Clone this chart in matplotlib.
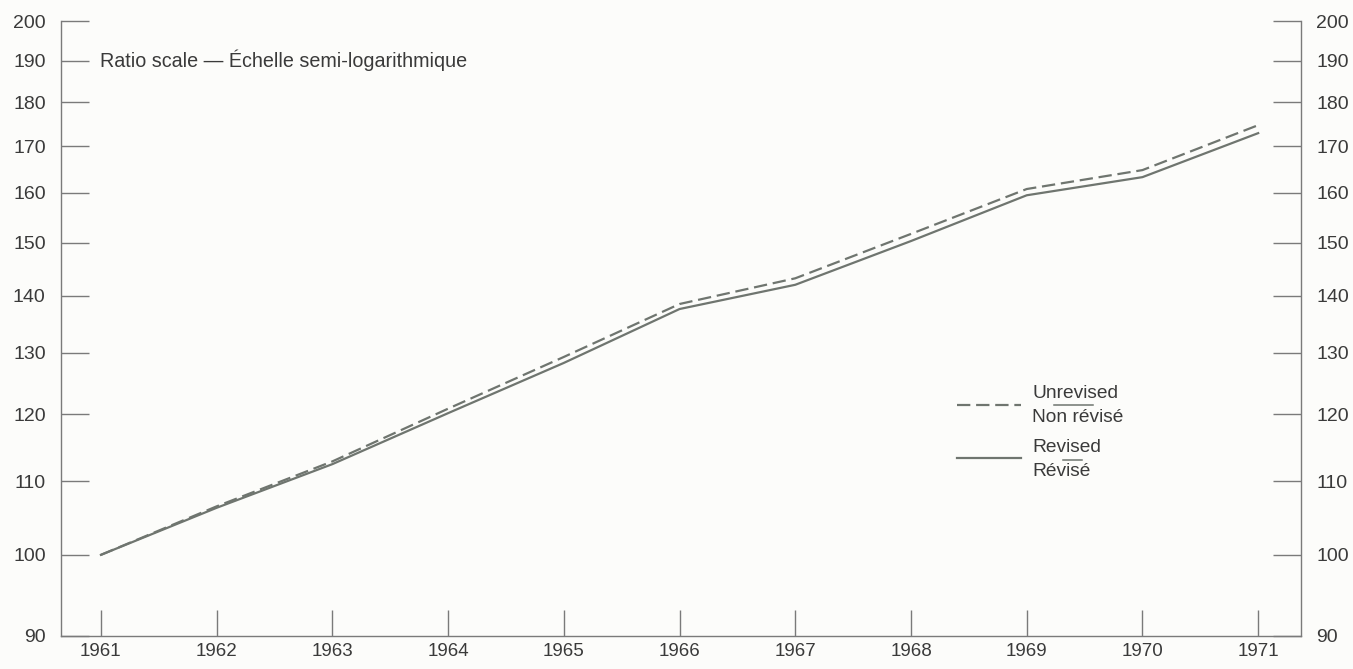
import numpy as np
import matplotlib.pyplot as plt
from matplotlib.ticker import FixedLocator, NullLocator, FixedFormatter

plt.rcParams['font.family'] = ['Liberation Sans', 'DejaVu Sans']

# data (index, 1961 = 100)
years = [1961, 1962, 1963, 1964, 1965, 1966, 1967, 1968, 1969, 1970, 1971]
revised = [100.0, 106.3, 112.5, 120.2, 128.3, 137.6, 142.0, 150.3, 159.5, 163.3, 172.9]
unrevised = [100.0, 106.5, 112.9, 120.9, 129.3, 138.5, 143.2, 151.7, 160.8, 164.8, 174.7]
yticks = [90, 100, 110, 120, 130, 140, 150, 160, 170, 180, 190, 200]

line_col = '#6f756f'
axis_col = '#7a7a7a'
text_col = '#3a3a3a'
bg = '#fcfcfa'

fig = plt.figure(figsize=(13.53, 6.69), dpi=100, facecolor=bg)
ax = fig.add_axes([61 / 1353, 33 / 669, 1240 / 1353, 615 / 669], facecolor=bg)

ax.plot(years, revised, color=line_col, lw=1.6, solid_joinstyle='miter')
ax.plot(years, unrevised, color=line_col, lw=1.6, dashes=(6, 2.6))

ax.set_yscale('log')
ax.set_ylim(90, 200)
ax.set_xlim(1960.655, 1971.37)

ax.yaxis.set_major_locator(FixedLocator(yticks))
ax.yaxis.set_major_formatter(FixedFormatter([str(v) for v in yticks]))
ax.yaxis.set_minor_locator(NullLocator())
ax.set_xticks(years)
ax.set_xticklabels([str(y) for y in years])

ax.tick_params(axis='y', which='major', direction='in', length=20, width=1,
               color=axis_col, labelcolor=text_col, labelsize=14, pad=11,
               left=True, right=True, labelleft=True, labelright=True)
ax.tick_params(axis='x', which='major', direction='in', length=19, width=1,
               color=axis_col, labelcolor=text_col, labelsize=13.5, pad=5)

ax.spines['top'].set_visible(False)
for s in ['left', 'right', 'bottom']:
    ax.spines[s].set_color(axis_col)
    ax.spines[s].set_linewidth(1)

ax.text(1960.99, 190, 'Ratio scale \u2014 \u00c9chelle semi-logarithmique',
        fontsize=14.2, color=text_col, va='center', ha='left')

# hand-drawn style legend
tr = ax.transAxes
def ax_xy(px, py):
    return (px - 61) / 1240, (636 - py) / 615

x0, _ = ax_xy(957, 0)
x1, _ = ax_xy(1021, 0)
_, yd = ax_xy(0, 405)
_, ys = ax_xy(0, 458)
ax.plot([x0, x1], [yd, yd], transform=tr, color=line_col, lw=1.6, dashes=(6, 2.6))
ax.plot([x0, x1], [ys, ys], transform=tr, color=line_col, lw=1.6)

tx, _ = ax_xy(1032, 0)
for label, py in [('Unrevised', 393), ('Non r\u00e9vis\u00e9', 417),
                  ('Revised', 448), ('R\u00e9vis\u00e9', 471)]:
    ax.text(tx, ax_xy(0, py)[1], label, transform=tr, fontsize=13.8,
            color=text_col, va='center', ha='left')

# pen marks under the legend words
for (pa, pb, py) in [(1054, 1093, 405), (1063, 1082, 460)]:
    xa, yy = ax_xy(pa, py)
    xb, _ = ax_xy(pb, py)
    ax.plot([xa, xb], [yy, yy], transform=tr, color=line_col, lw=1.1)

fig.savefig('out.png', dpi=100, facecolor=bg)
